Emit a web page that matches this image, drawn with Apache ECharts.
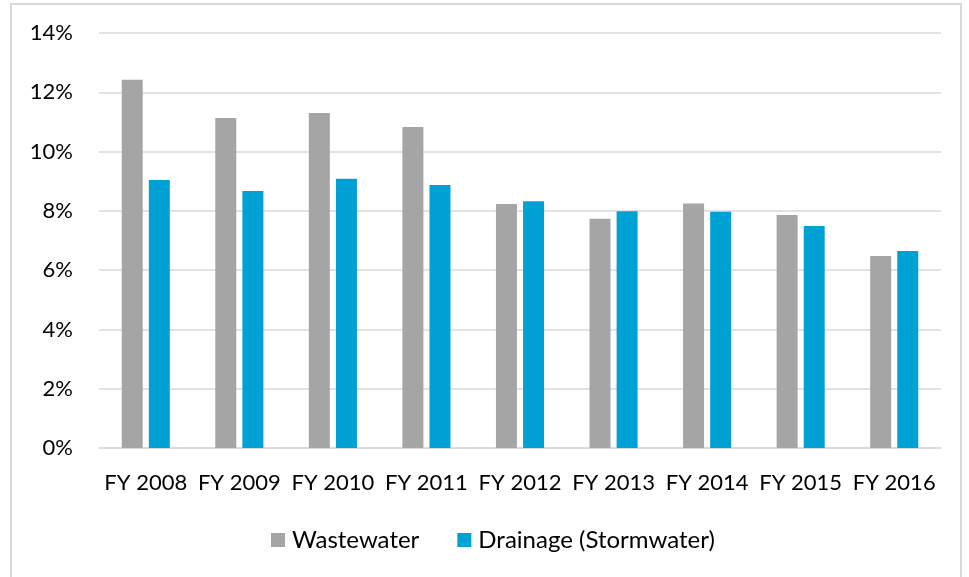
<!DOCTYPE html>
<html>
<head>
<meta charset="utf-8">
<script src="https://cdn.jsdelivr.net/npm/echarts@6/dist/echarts.min.js"></script>
<style>
  html, body { margin: 0; padding: 0; background: #fff; }
  #chart { width: 969px; height: 577px; }
</style>
</head>
<body>
<div id="chart"></div>
<script>
var categories = ['FY 2008', 'FY 2009', 'FY 2010', 'FY 2011', 'FY 2012', 'FY 2013', 'FY 2014', 'FY 2015', 'FY 2016'];
var wastewater = [12.42, 11.13, 11.30, 10.83, 8.23, 7.73, 8.25, 7.86, 6.48];
var drainage = [9.04, 8.67, 9.08, 8.87, 8.32, 7.99, 7.97, 7.49, 6.65];
var yTicks = [0, 2, 4, 6, 8, 10, 12, 14];

var fontName = 'Lato, "Open Sans", sans-serif';

var myChart = echarts.init(document.getElementById('chart'));
var option = {
    animation: false,
    graphic: [{
        type: 'rect',
        shape: { x: 11, y: 4, width: 950, height: 580 },
        style: { fill: 'none', stroke: '#d9d9d9', lineWidth: 2 }
    }],
    grid: {
        left: 99,
        right: 28,
        top: 33,
        bottom: 129
    },
    legend: {
        top: 523,
        left: 266,
        itemWidth: 14,
        itemHeight: 14,
        itemGap: 38,
        icon: 'rect',
        textStyle: { fontFamily: fontName, fontSize: 24, color: '#000', padding: [0, 0, 0, 2] },
        data: ['Wastewater', 'Drainage (Stormwater)']
    },
    xAxis: {
        type: 'category',
        data: categories,
        axisTick: { show: false },
        axisLine: { lineStyle: { color: '#d9d9d9', width: 1.5 } },
        axisLabel: { fontFamily: fontName, fontSize: 22, color: '#000', margin: 24, interval: 0 }
    },
    yAxis: {
        type: 'value',
        min: yTicks[0],
        max: yTicks[yTicks.length - 1],
        interval: 2,
        axisLine: { show: false },
        axisTick: { show: false },
        splitLine: { lineStyle: { color: '#d9d9d9', width: 1.5 } },
        axisLabel: {
            fontFamily: fontName, fontSize: 22, color: '#000', margin: 26,
            formatter: function (v) { return v + '%'; }
        }
    },
    series: [{
        name: 'Wastewater',
        type: 'bar',
        data: wastewater,
        barWidth: 21,
        barGap: '29%',
        itemStyle: { color: '#a5a5a5' }
    }, {
        name: 'Drainage (Stormwater)',
        type: 'bar',
        data: drainage,
        barWidth: 21,
        itemStyle: { color: '#00a2d6' }
    }]
};
myChart.setOption(option);
</script>
</body>
</html>
